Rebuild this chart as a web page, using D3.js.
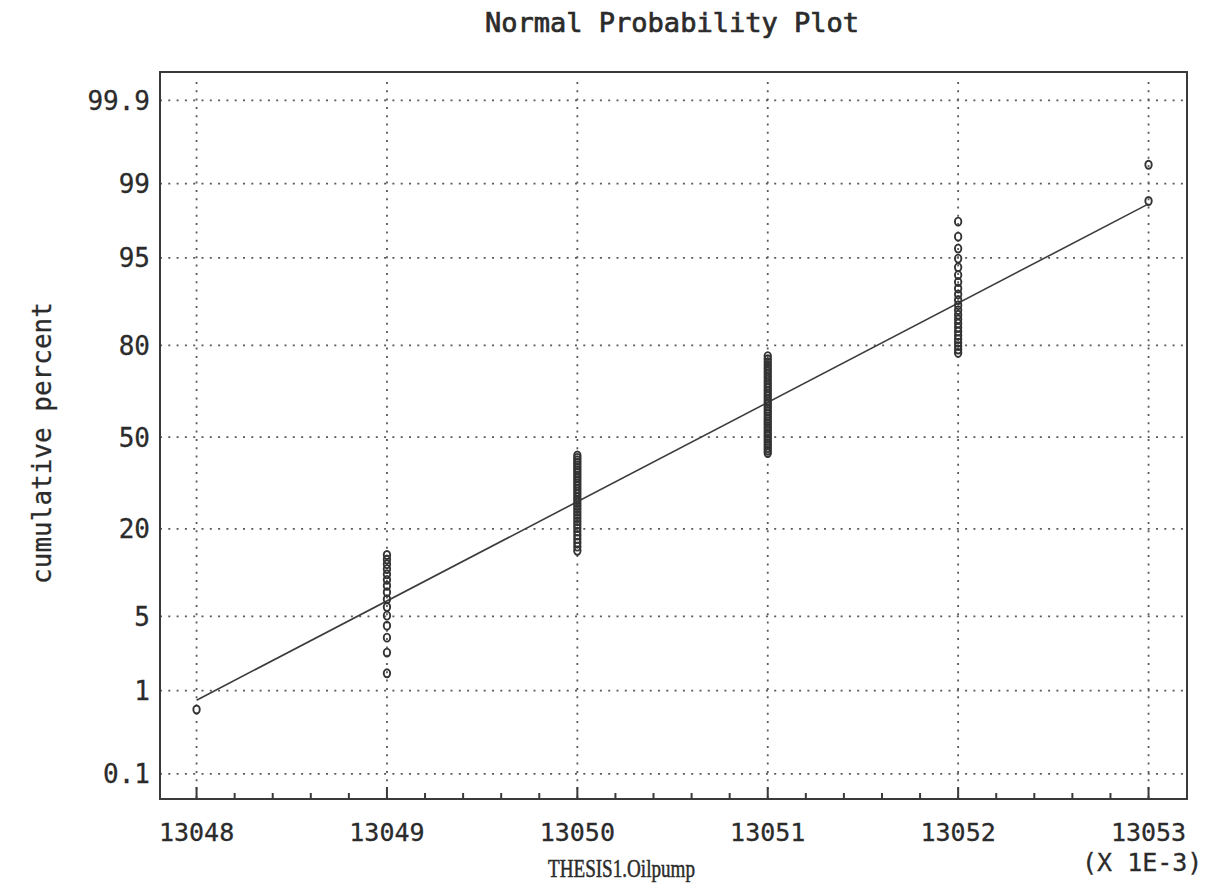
<!DOCTYPE html>
<html>
<head>
<meta charset="utf-8">
<script src="https://cdn.jsdelivr.net/npm/d3@7/dist/d3.min.js"></script>
<style>
  html, body { margin: 0; padding: 0; background: #ffffff; }
  svg { display: block; }
  text { fill: #2b2b2b; }
  .mono { font-family: "DejaVu Sans Mono", "Liberation Mono", monospace; }
  .serif { font-family: "Liberation Serif", "DejaVu Serif", serif; }
</style>
</head>
<body>
<svg id="chart" width="1217" height="892"></svg>
<script>
// ---- data ----
const xValues = [13.048, 13.049, 13.050, 13.051, 13.052, 13.053];   // observed Oilpump values
const xCounts = [1, 15, 33, 38, 23, 2];                             // number of observations at each value
const yTickPercents = [0.1, 1, 5, 20, 50, 80, 95, 99, 99.9];
const yTickLabels = ["0.1", "1", "5", "20", "50", "80", "95", "99", "99.9"];
const xTicks = [13.048, 13.049, 13.050, 13.051, 13.052, 13.053];
const xTickLabels = ["13048", "13049", "13050", "13051", "13052", "13053"];
const fitMean = 13.05065;     // fitted normal line
const fitSigma = 0.001098;
const titleText = "Normal Probability Plot";
const xLabel = "THESIS1.Oilpump";
const yLabel = "cumulative percent";
const xScaleNote = "(X 1E-3)";

// inverse standard normal CDF (Acklam)
function probit(p) {
  const a = [-3.969683028665376e+01, 2.209460984245205e+02, -2.759285104469687e+02, 1.383577518672690e+02, -3.066479806614716e+01, 2.506628277459239e+00];
  const b = [-5.447609879822406e+01, 1.615858368580409e+02, -1.556989798598866e+02, 6.680131188771972e+01, -1.328068155288572e+01];
  const c = [-7.784894002430293e-03, -3.223964580411365e-01, -2.400758276161838e+00, -2.549732539343734e+00, 4.374664141464968e+00, 2.938163982698783e+00];
  const d = [7.784695709041462e-03, 3.224671290700398e-01, 2.445134137142996e+00, 3.754408661907416e+00];
  const plow = 0.02425;
  let q, r;
  if (p < plow) {
    q = Math.sqrt(-2 * Math.log(p));
    return (((((c[0]*q+c[1])*q+c[2])*q+c[3])*q+c[4])*q+c[5]) / ((((d[0]*q+d[1])*q+d[2])*q+d[3])*q+1);
  } else if (p <= 1 - plow) {
    q = p - 0.5; r = q*q;
    return (((((a[0]*r+a[1])*r+a[2])*r+a[3])*r+a[4])*r+a[5])*q / (((((b[0]*r+b[1])*r+b[2])*r+b[3])*r+b[4])*r+1);
  } else {
    q = Math.sqrt(-2 * Math.log(1 - p));
    return -(((((c[0]*q+c[1])*q+c[2])*q+c[3])*q+c[4])*q+c[5]) / ((((d[0]*q+d[1])*q+d[2])*q+d[3])*q+1);
  }
}

// build the sorted sample & median-rank plotting positions
const sample = [];
xValues.forEach((v, k) => { for (let j = 0; j < xCounts[k]; j++) sample.push(v); });
const n = sample.length;
const points = sample.map((v, i) => ({ x: v, p: (i + 1 - 0.3) / (n + 0.4) }));

// layout
const frame = { left: 160, top: 72, right: 1187, bottom: 799 };
const svg = d3.select("#chart");

const x = d3.scaleLinear().domain([13.047808, 13.053202]).range([frame.left, frame.right]);
const z = d3.scaleLinear().domain([-3.32, 3.35]).range([frame.bottom, frame.top]);
const yOfPercent = pct => z(probit(pct / 100));

const gridColor = "#5a5a5a";

// horizontal grid
svg.append("g").selectAll("line").data(yTickPercents).join("line")
  .attr("x1", frame.left).attr("x2", frame.right)
  .attr("y1", d => yOfPercent(d)).attr("y2", d => yOfPercent(d))
  .attr("stroke", gridColor).attr("stroke-width", 1.8)
  .attr("stroke-dasharray", "2 6.3");

// vertical grid
svg.append("g").selectAll("line").data(xTicks).join("line")
  .attr("x1", d => x(d)).attr("x2", d => x(d))
  .attr("y1", frame.top + 10).attr("y2", frame.bottom)
  .attr("stroke", gridColor).attr("stroke-width", 1.8)
  .attr("stroke-dasharray", "2 6.3");

// frame
svg.append("rect")
  .attr("x", frame.left).attr("y", frame.top)
  .attr("width", frame.right - frame.left).attr("height", frame.bottom - frame.top)
  .attr("fill", "none").attr("stroke", "#3a3a3a").attr("stroke-width", 2);

// bottom axis ticks (pointing up inside)
const minorTicks = d3.range(13.0478, 13.0532, 0.0002).filter(t => Math.abs(Math.round(t * 1000) - t * 1000) > 1e-6 && x(t) > frame.left + 2 && x(t) < frame.right - 2);
svg.append("g").selectAll("line").data(xTicks).join("line")
  .attr("x1", d => x(d)).attr("x2", d => x(d))
  .attr("y1", frame.bottom).attr("y2", frame.bottom - 12)
  .attr("stroke", "#3a3a3a").attr("stroke-width", 2);
svg.append("g").selectAll("line").data(minorTicks).join("line")
  .attr("x1", d => x(d)).attr("x2", d => x(d))
  .attr("y1", frame.bottom).attr("y2", frame.bottom - 6)
  .attr("stroke", "#3a3a3a").attr("stroke-width", 2);

// y tick labels
svg.append("g").selectAll("text").data(yTickPercents).join("text")
  .attr("class", "mono")
  .attr("x", 150).attr("y", d => yOfPercent(d) + 9.5)
  .attr("text-anchor", "end").attr("font-size", 26)
  .attr("stroke", "#2b2b2b").attr("stroke-width", 0.3)
  .text((d, i) => yTickLabels[i]);

// x tick labels
svg.append("g").selectAll("text").data(xTicks).join("text")
  .attr("class", "mono")
  .attr("x", d => x(d)).attr("y", 841)
  .attr("text-anchor", "middle").attr("font-size", 25)
  .attr("stroke", "#2b2b2b").attr("stroke-width", 0.3)
  .text((d, i) => xTickLabels[i]);

// fitted line
const fitLine = d3.line().x(d => x(d)).y(d => z((d - fitMean) / fitSigma));
svg.append("path").datum([xTicks[0], xTicks[xTicks.length - 1]])
  .attr("d", fitLine).attr("fill", "none")
  .attr("stroke", "#3c3c3c").attr("stroke-width", 1.6);

// points
svg.append("g").selectAll("ellipse").data(points).join("ellipse")
  .attr("cx", d => x(d.x)).attr("cy", d => z(probit(d.p)))
  .attr("rx", 3.2).attr("ry", 4.0)
  .attr("fill", "none").attr("stroke", "#333").attr("stroke-width", 1.9);

// titles
svg.append("text").attr("class", "mono").attr("x", 672).attr("y", 32).attr("text-anchor", "middle")
  .attr("font-size", 27).attr("stroke", "#2b2b2b").attr("stroke-width", 0.7).text(titleText);
svg.append("text").attr("class", "serif").attr("x", 548).attr("y", 877).attr("text-anchor", "start")
  .attr("font-size", 25).attr("textLength", 147).attr("lengthAdjust", "spacingAndGlyphs")
  .attr("stroke", "#2b2b2b").attr("stroke-width", 0.5).text(xLabel);
svg.append("text").attr("class", "mono").attr("x", 1082).attr("y", 871).attr("text-anchor", "start")
  .attr("font-size", 25).attr("stroke", "#2b2b2b").attr("stroke-width", 0.3).text(xScaleNote);
svg.append("text").attr("class", "mono").attr("transform", "translate(42,443) rotate(-90)")
  .attr("text-anchor", "middle").attr("dominant-baseline", "central")
  .attr("font-size", 26).attr("stroke", "#2b2b2b").attr("stroke-width", 0.3).text(yLabel);
</script>
</body>
</html>
